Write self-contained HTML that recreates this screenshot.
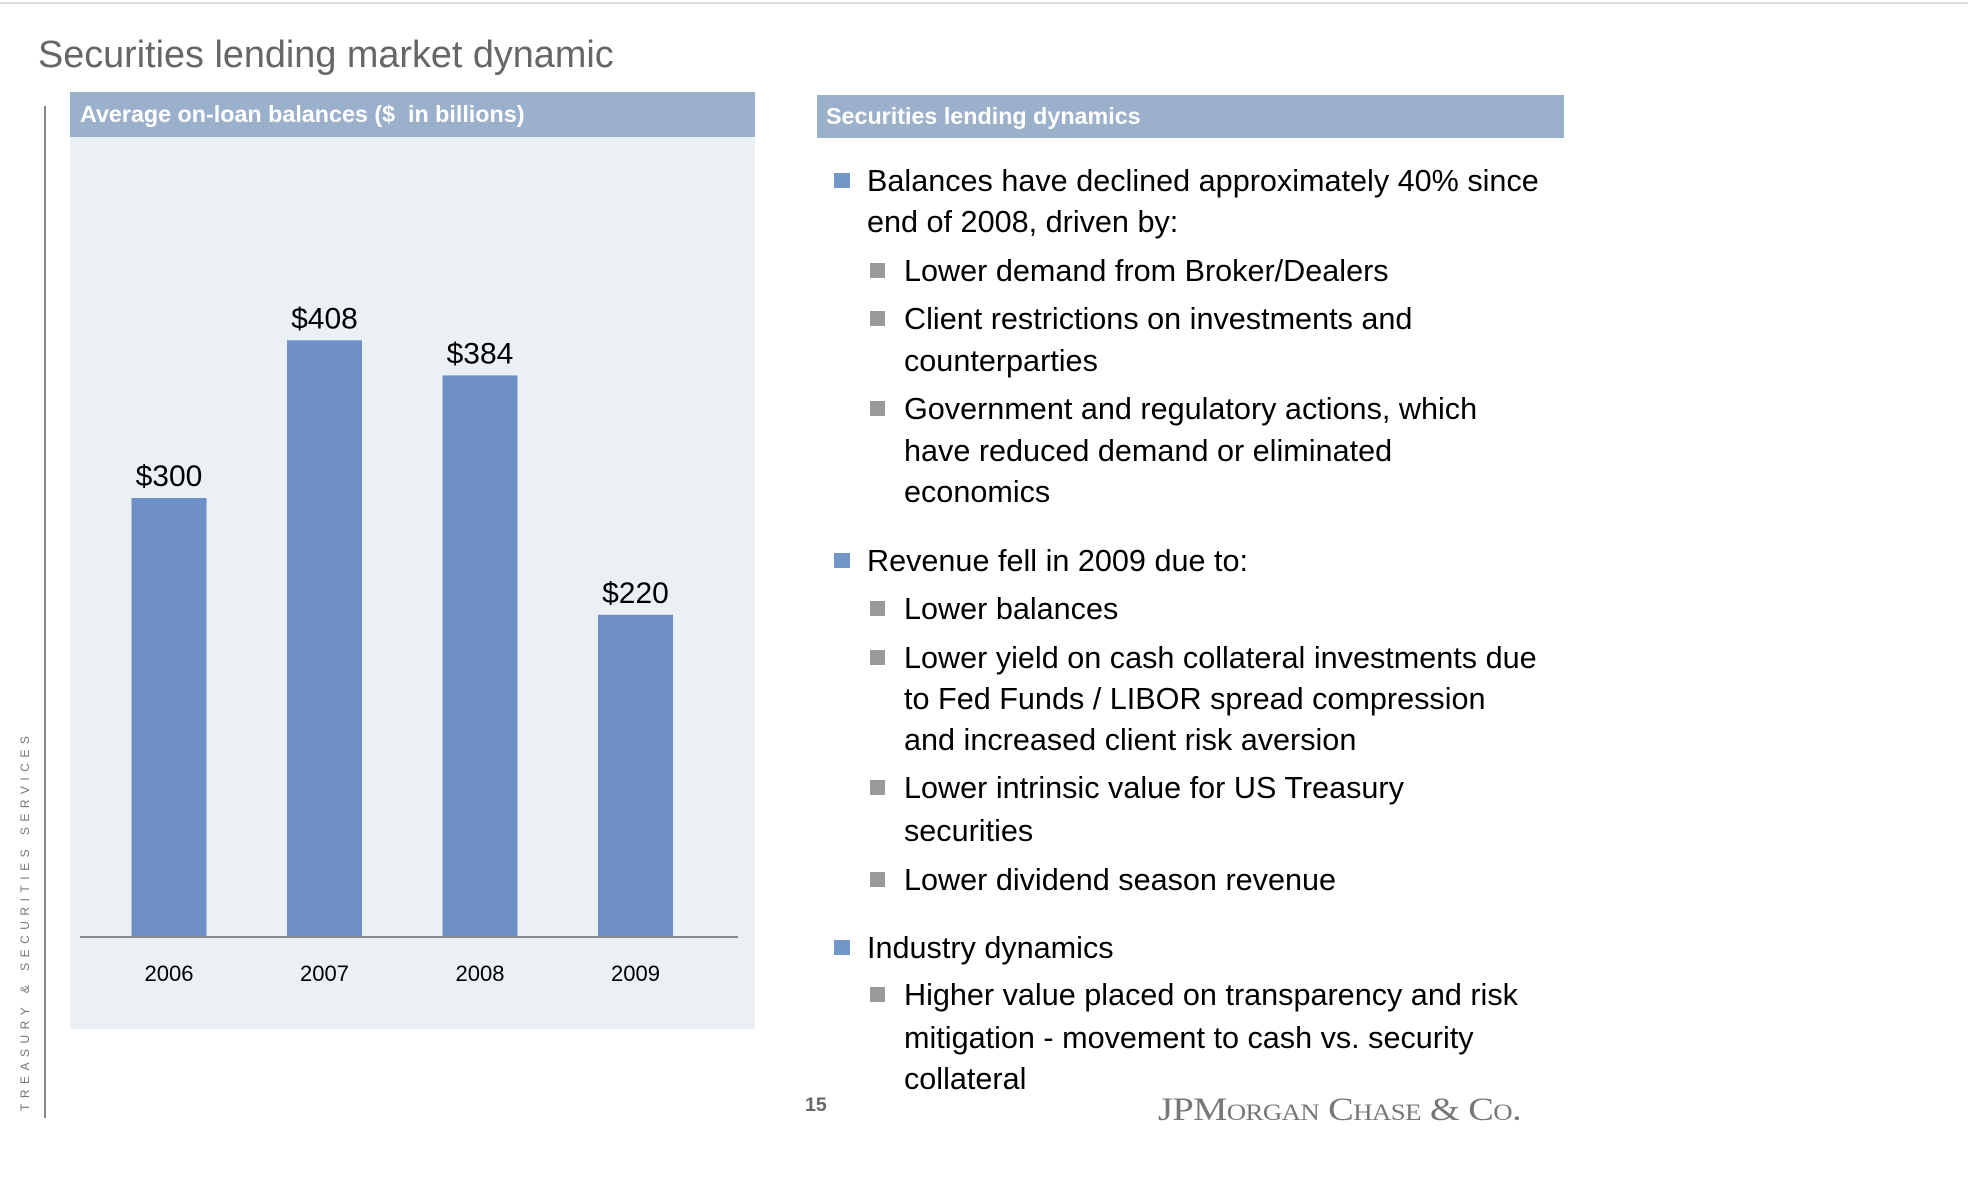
<!DOCTYPE html>
<html><head><meta charset="utf-8"><style>
body{margin:0;width:1968px;height:1202px;background:#fff;position:relative;overflow:hidden;font-family:"Liberation Sans",sans-serif;}
.a{position:absolute;white-space:nowrap;}
.t{font-size:30.6px;color:#000;line-height:1;}
.bm{position:absolute;width:16px;height:15px;background:#7396c8;}
.bs{position:absolute;width:15px;height:15px;background:#9a9a9a;}
</style></head><body>
<div class="a" style="left:0;top:2px;width:1968px;height:2px;background:#ddd"></div>
<div class="a" style="left:38px;top:34px;font-size:37.8px;color:#666">Securities lending market dynamic</div>
<div class="a" style="left:44px;top:106px;width:2px;height:1012px;background:#888"></div>
<div class="a" style="left:25px;top:1111px;transform-origin:0 0;transform:rotate(-90deg) translateY(-7px);font-size:12px;letter-spacing:5.5px;color:#777">TREASURY &amp; SECURITIES SERVICES</div>

<div class="a" style="left:70px;top:137px;width:685px;height:892px;background:#ebf0f4"></div>
<div class="a" style="left:70px;top:92px;width:685px;height:45px;background:#9ab0cb;color:#fff;font-weight:bold;font-size:23.3px;line-height:45px;text-indent:10px">Average on-loan balances ($&nbsp; in billions)</div>
<svg class="a" style="left:0;top:0" width="800" height="1040" id="chart"></svg>

<div class="a" style="left:817px;top:95px;width:747px;height:43px;background:#9ab0cb;color:#fff;font-weight:bold;font-size:23.3px;line-height:43px;text-indent:9px">Securities lending dynamics</div>
<div id="bl"></div>

<div class="a" style="left:805px;top:1094px;font-size:19.5px;font-weight:bold;color:#666">15</div>
<div class="a" style="left:1158px;top:1092px;font-family:'Liberation Serif',serif;font-size:33px;font-variant:small-caps;color:#777;letter-spacing:-0.5px;transform-origin:0 0;transform:scaleX(1.165)">JPMorgan Chase &amp; Co.</div>

<script>
const categories=["2006","2007","2008","2009"];
const values=[300,408,384,220];
const valueLabels=["$300","$408","$384","$220"];
const NS="http://www.w3.org/2000/svg";
const svg=document.getElementById('chart');
const baseY=936, pxPerUnit=1.46;
const y=v=>baseY-v*pxPerUnit;
const x0=169, step=155.5, bw=75;
const xc=i=>x0+i*step;
function mk(t,a){const e=document.createElementNS(NS,t);for(const k in a)e.setAttribute(k,a[k]);svg.appendChild(e);return e;}
categories.forEach((c,i)=>{
  const r=mk('rect',{x:xc(i)-bw/2,y:y(values[i]),width:bw,height:baseY-y(values[i]),fill:'#6f8fc7'});
  
  
  const t=mk('text',{x:xc(i),y:y(values[i])-12,'text-anchor':'middle','font-size':30,fill:'#000','font-family':'Liberation Sans, sans-serif'});
  t.textContent=valueLabels[i];
  
  
  const l=mk('text',{x:xc(i),y:981,'text-anchor':'middle','font-size':22,fill:'#000','font-family':'Liberation Sans, sans-serif'});
  l.textContent=c;
  
  
});
const ax=mk('line',{x1:80,x2:738,y1:937,y2:937,stroke:'#888','stroke-width':2});



const lines=[
[0,181,"Balances have declined approximately 40% since",1],[0,222,"end of 2008, driven by:",0],
[1,271,"Lower demand from Broker/Dealers",1],
[1,319,"Client restrictions on investments and",1],[1,361,"counterparties",0],
[1,409,"Government and regulatory actions, which",1],[1,451,"have reduced demand or eliminated",0],[1,492,"economics",0],
[0,561,"Revenue fell in 2009 due to:",1],
[1,609,"Lower balances",1],
[1,658,"Lower yield on cash collateral investments due",1],[1,699,"to Fed Funds / LIBOR spread compression",0],[1,740,"and increased client risk aversion",0],
[1,788,"Lower intrinsic value for US Treasury",1],[1,831,"securities",0],
[1,880,"Lower dividend season revenue",1],
[0,948,"Industry dynamics",1],
[1,995,"Higher value placed on transparency and risk",1],[1,1038,"mitigation -  movement to cash vs. security",0],[1,1079,"collateral",0]];
const bl=document.getElementById('bl');
lines.forEach(([lv,cy,txt,b],i)=>{
  const d=document.createElement('div');
  d.className='a t';
  d.style.left=(lv?904:867)+'px';d.style.top=(cy-15)+'px';
  d.textContent=txt;
  
  
  bl.appendChild(d);
  if(b){const s=document.createElement('div');
    s.className=lv?'bs':'bm';
    s.style.left=(lv?870:834)+'px';s.style.top=(cy-8)+'px';
    
    
    bl.appendChild(s);}
});
</script>
</body></html>
